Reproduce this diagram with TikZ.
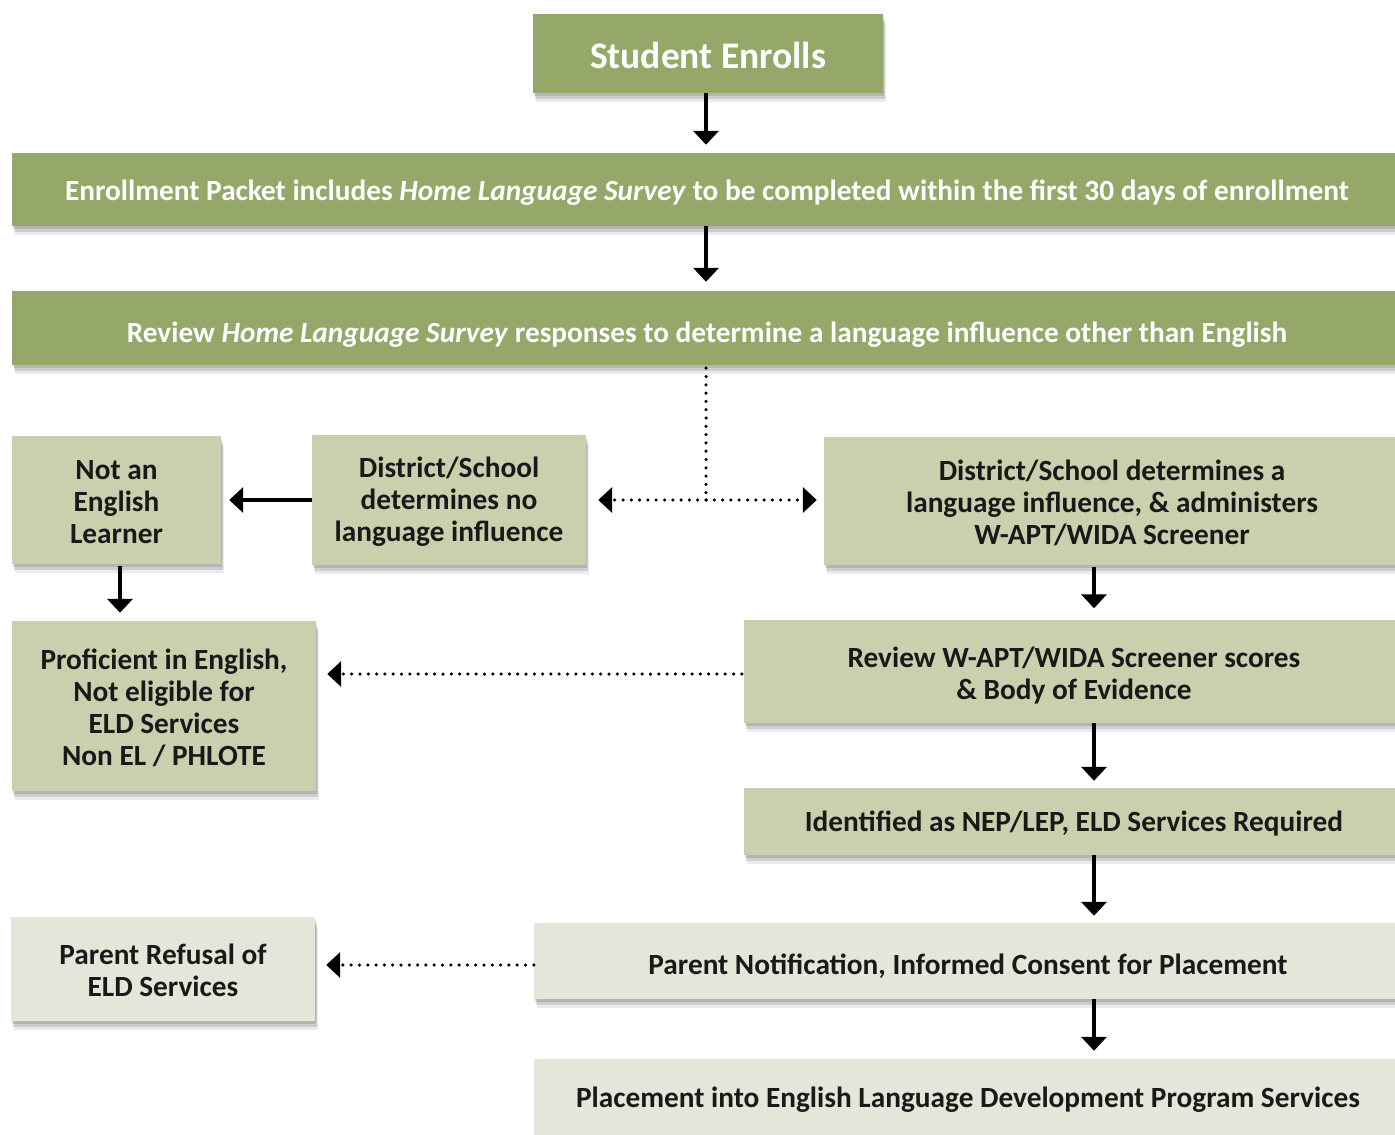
\documentclass[tikz,border=0pt]{standalone}
\usepackage{fontspec}
\setmainfont{Carlito}
\usetikzlibrary{arrows.meta,shadows}
\definecolor{dkgreen}{RGB}{150,167,106}
\definecolor{ltgreen}{RGB}{201,208,174}
\definecolor{pale}{RGB}{227,230,216}
\tikzset{
	txt/.style={align=center,inner sep=0pt,font=\fontsize{29.3}{32}\selectfont\bfseries},
	box/.style={rectangle,inner sep=0pt,
		drop shadow={shadow xshift=1pt,shadow yshift=-3pt,opacity=.12,fill=black},
		drop shadow={shadow xshift=2pt,shadow yshift=-6pt,opacity=.12,fill=black},
		drop shadow={shadow xshift=3pt,shadow yshift=-9pt,opacity=.08,fill=black}},
	dbox/.style 2 args={box,fill=dkgreen,label={[txt,text=white,yshift=#1]center:{#2}}},
	lbox/.style 2 args={box,fill=ltgreen,label={[txt,text=black!90,yshift=#1]center:{#2}}},
	pbox/.style 2 args={box,fill=pale,label={[txt,text=black!90,yshift=#1]center:{#2}}},
	arr/.style={line width=3.5pt,-{Triangle[width=25pt,length=14pt]}},
	dotarr/.style={line width=3.5pt,dash pattern=on 0pt off 8.3pt,line cap=round,-{Triangle[width=25pt,length=14pt]}}
}
\begin{document}
\begin{tikzpicture}[x=1pt,y=1pt]
	\useasboundingbox (0,0) rectangle (1395,-1135);
	\fill[white] (0,0) rectangle (1395,-1135);

	\node [dbox={-2pt}{\fontsize{37.5}{40}\selectfont Student Enrolls},minimum width=350pt,minimum height=79pt] (enroll) at (708,-53.5) {};
	\node [dbox={-3pt}{Enrollment Packet includes \textit{Home Language Survey} to be completed within the first 30 days of enrollment},minimum width=1390pt,minimum height=73pt] (packet) at (707,-189.5) {};
	\node [dbox={-7pt}{Review \textit{Home Language Survey} responses to determine a language influence other than English},minimum width=1390pt,minimum height=74pt] (hls) at (707,-328) {};

	\node [lbox={-2pt}{Not an\\English\\Learner},minimum width=209pt,minimum height=128pt] (notel) at (116.5,-500) {};
	\node [lbox={-2pt}{District/School\\determines no\\language influence},minimum width=274pt,minimum height=130pt] (nolang) at (449,-500) {};
	\node [lbox={-2pt}{District/School determines a\\language influence, \& administers\\W-APT/WIDA Screener},minimum width=576pt,minimum height=128pt] (yeslang) at (1112,-501) {};

	\node [lbox={-2pt}{Proficient in English,\\Not eligible for\\ELD Services\\Non EL / PHLOTE},minimum width=304pt,minimum height=170pt] (prof) at (164,-706) {};
	\node [lbox={-5pt}{Review W-APT/WIDA Screener scores\\\& Body of Evidence},minimum width=660pt,minimum height=103pt] (wapt) at (1074,-671) {};
	\node [lbox={-2pt}{Identified as NEP/LEP, ELD Services Required},minimum width=660pt,minimum height=67pt] (ident) at (1074,-821.5) {};

	\node [pbox={-1pt}{Parent Refusal of\\ELD Services},minimum width=304pt,minimum height=104pt] (refusal) at (163,-969) {};
	\node [pbox={-5pt}{Parent Notification, Informed Consent for Placement},minimum width=868pt,minimum height=76pt] (notify) at (968,-961) {};
	\node [pbox={-3pt}{Placement into English Language Development Program Services},minimum width=868pt,minimum height=76pt] (place) at (968,-1097) {};

	\coordinate (split) at (706,-500);
	\coordinate (rcol) at (1094,0);

	\draw [arr,shorten >=8pt] (enroll.south -| split) -- (packet.north -| split);
	\draw [arr,shorten >=9pt] (packet.south -| split) -- (hls.north -| split);

	\draw [line width=3.5pt,dash pattern=on 0pt off 8.3pt,line cap=round] ([yshift=-3pt]hls.south -| split) -- (split);
	\draw [dotarr,shorten >=12pt] (split) -- (nolang.east |- split);
	\draw [dotarr,shorten >=7pt] (split) -- (yeslang.west |- split);

	\draw [arr,shorten >=8pt] (nolang.west) -- (notel.east);
	\draw [arr,shorten >=8pt] ([xshift=3.5pt,yshift=-2pt]notel.south) -- ([xshift=3.5pt]notel.south |- prof.north);

	\draw [arr,shorten >=11pt] ([yshift=-2pt]yeslang.south -| rcol) -- (wapt.north -| rcol);
	\draw [dotarr,shorten >=11pt] ([xshift=-2pt,yshift=-3pt]wapt.west) -- ([yshift=-3pt]wapt.west -| prof.east);
	\draw [arr,shorten >=7pt] (wapt.south -| rcol) -- (ident.north -| rcol);
	\draw [arr,shorten >=7pt] (ident.south -| rcol) -- (notify.north -| rcol);
	\draw [dotarr,shorten >=11pt] ([yshift=-4pt]notify.west) -- ([yshift=-4pt]notify.west -| refusal.east);
	\draw [arr,shorten >=8pt] (notify.south -| rcol) -- (place.north -| rcol);
\end{tikzpicture}
\end{document}
